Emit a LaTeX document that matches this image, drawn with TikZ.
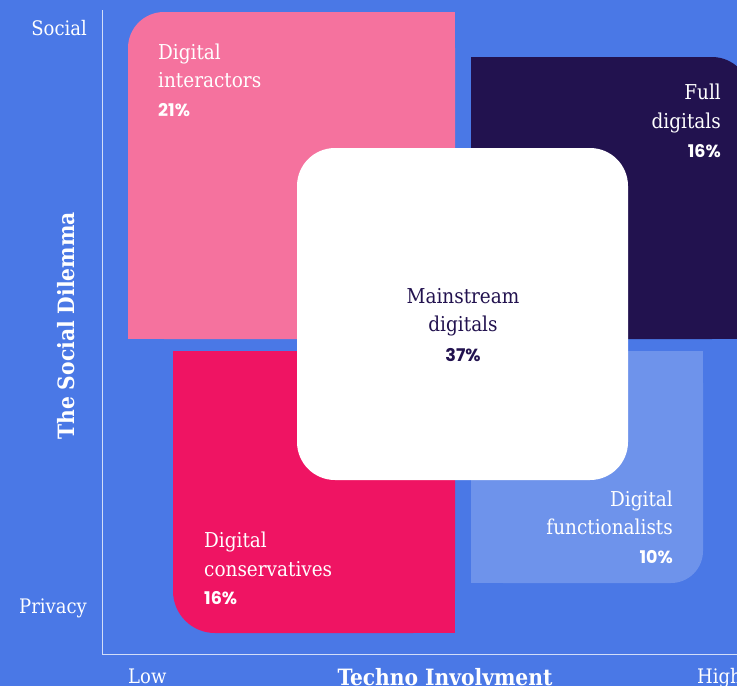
\documentclass[tikz,border=0pt]{standalone}
\usepackage{fontspec}
\setmainfont{DejaVu Serif Condensed}
\newfontfamily\pctfont{Poppins}
\usetikzlibrary{positioning}
\definecolor{bgblue}{HTML}{4A78E6}
\definecolor{pinkq}{HTML}{F5729E}
\definecolor{darkq}{HTML}{22124F}
\definecolor{redq}{HTML}{EF1463}
\definecolor{lightq}{HTML}{6E93EB}
\definecolor{axisc}{HTML}{D2DDF8}
\tikzset{
  lbl/.style={inner sep=0pt, text=white, font=\fontsize{20.5}{24}\selectfont},
  pct/.style={inner sep=0pt, text=white, font=\pctfont\bfseries\fontsize{17.5}{20}\selectfont},
  axlbl/.style={inner sep=0pt, text=white, font=\fontsize{20}{24}\selectfont},
  axtitle/.style={inner sep=0pt, text=white, font=\bfseries\fontsize{22.5}{26}\selectfont},
}
\begin{document}
\begin{tikzpicture}[x=1pt,y=-1pt]
\useasboundingbox (0,0) rectangle (737,686);
\fill[bgblue] (0,0) rectangle (737,686);
% axes
\coordinate (axtop) at (102.5,10);
\coordinate (axorig) at (102.5,654.5);
\coordinate (axright) at (737,654.5);
\draw[axisc, line width=1.5pt] (axtop) -- (axorig) -- (axright);
% pink (top-left rounded)
\fill[pinkq, rounded corners=36pt] (128,12) rectangle (455,339);
\fill[pinkq] (164,12) rectangle (455,339);
\fill[pinkq] (128,48) rectangle (455,339);
% dark (top-right rounded)
\fill[darkq, rounded corners=38pt] (471,57) rectangle (750,339);
\fill[darkq] (471,57) rectangle (712,339);
\fill[darkq] (471,95) rectangle (750,339);
% red (bottom-left rounded)
\fill[redq, rounded corners=42pt] (173,351) rectangle (455,633);
\fill[redq] (215,351) rectangle (455,633);
\fill[redq] (173,351) rectangle (455,591);
% light blue (bottom-right rounded)
\fill[lightq, rounded corners=32pt] (471,351) rectangle (703,583);
\fill[lightq] (471,351) rectangle (671,583);
\fill[lightq] (471,351) rectangle (703,551);
% white centre
\fill[white, rounded corners=38pt] (297,148) rectangle (628,480);
% texts
\node[lbl, anchor=base west] (di1) at (158,59) {Digital};
\node[lbl, anchor=base west] (di2) at (158,87) {interactors};
\node[pct, anchor=base west] (di3) at (158,116) {21\%};
\node[lbl, anchor=base east] (fd1) at (721,99) {Full};
\node[lbl, anchor=base east] (fd2) at (721,128) {digitals};
\node[pct, anchor=base east] (fd3) at (721,157) {16\%};
\node[lbl, anchor=base, text=darkq] (md1) at (463,303) {Mainstream};
\node[lbl, anchor=base, text=darkq] (md2) at (463,331) {digitals};
\node[pct, anchor=base, text=darkq] (md3) at (463,361) {37\%};
\node[lbl, anchor=base east] (df1) at (673,506) {Digital};
\node[lbl, anchor=base east] (df2) at (673,534) {functionalists};
\node[pct, anchor=base east] (df3) at (673,563) {10\%};
\node[lbl, anchor=base west] (dc1) at (204,547) {Digital};
\node[lbl, anchor=base west] (dc2) at (204,576) {conservatives};
\node[pct, anchor=base west] (dc3) at (204,604) {16\%};
% axis labels
\node[axlbl, anchor=base east] (social) at (87,35) {Social};
\node[axlbl, anchor=base east] (privacy) at (87,613) {Privacy};
\node[axlbl, anchor=base west] (low) at (128,683) {Low};
\node[axlbl, anchor=base west] (high) at (697,683) {High};
\node[axtitle, anchor=base] (techno) at (445,685) {Techno Involvment};
\node[axtitle, anchor=base, rotate=90] (dilemma) at (74,326) {The Social Dilemma};
\end{tikzpicture}
\end{document}
